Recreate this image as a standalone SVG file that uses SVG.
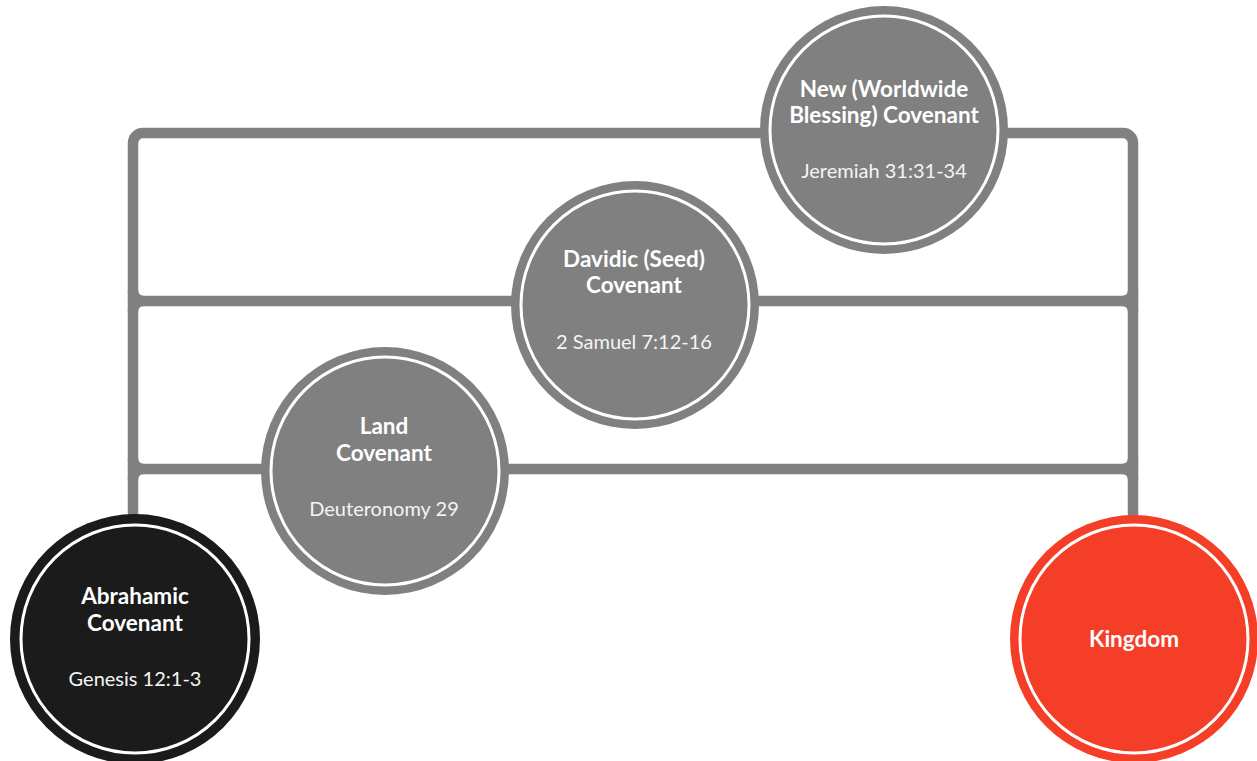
<svg xmlns="http://www.w3.org/2000/svg" width="1257" height="761" viewBox="0 0 1257 761">
<style>
.ln{fill:none;stroke:#808080;stroke-width:10.5;stroke-linecap:round}
.ring{fill:none;stroke:#ffffff;stroke-width:3}
.t{font-family:Lato,"Liberation Sans",sans-serif;font-weight:bold;font-size:22.5px;fill:#ffffff;text-anchor:middle}
.r{font-family:Lato,"Liberation Sans",sans-serif;font-size:20px;fill:#f4f4f4;text-anchor:middle}
</style>
<rect width="1257" height="761" fill="#ffffff"/>
<g id="connectors">
<path class="ln" d="M133,515 V143 A10,10 0 0 1 143,133 H1123 A10,10 0 0 1 1133,143 V515"/>
<path class="ln" d="M133,301 H1133"/>
<path class="ln" d="M133,469 H1133"/>
<path class="ln" d="M133,291 A10,10 0 0 0 143,301 M133,311 A10,10 0 0 1 143,301 M1133,291 A10,10 0 0 1 1123,301 M1133,311 A10,10 0 0 0 1123,301"/>
<path class="ln" d="M133,459 A10,10 0 0 0 143,469 M133,479 A10,10 0 0 1 143,469 M1133,459 A10,10 0 0 1 1123,469 M1133,479 A10,10 0 0 0 1123,469"/>
</g>
<g id="abrahamic">
<circle cx="135" cy="639" r="125" fill="#1b1b1b"/>
<circle class="ring" cx="135" cy="639" r="114"/>
<text class="t" x="135" y="604">Abrahamic</text>
<text class="t" x="135" y="631">Covenant</text>
<text class="r" x="135" y="686">Genesis 12:1-3</text>
</g>
<g id="land">
<circle cx="385" cy="471" r="124" fill="#808080"/>
<circle class="ring" cx="385" cy="471" r="114"/>
<text class="t" x="384" y="434">Land</text>
<text class="t" x="384" y="461">Covenant</text>
<text class="r" x="384" y="516">Deuteronomy 29</text>
</g>
<g id="davidic">
<circle cx="635" cy="305" r="124" fill="#808080"/>
<circle class="ring" cx="635" cy="305" r="114"/>
<text class="t" x="634" y="267">Davidic (Seed)</text>
<text class="t" x="634" y="293">Covenant</text>
<text class="r" x="634" y="349">2 Samuel 7:12-16</text>
</g>
<g id="new">
<circle cx="884" cy="130" r="124" fill="#808080"/>
<circle class="ring" cx="884" cy="130" r="114"/>
<text class="t" x="884" y="97">New (Worldwide</text>
<text class="t" x="884" y="123">Blessing) Covenant</text>
<text class="r" x="884" y="178">Jeremiah 31:31-34</text>
</g>
<g id="kingdom">
<circle cx="1134" cy="639" r="124" fill="#f43e27"/>
<circle class="ring" cx="1134" cy="639" r="114"/>
<text class="t" x="1134" y="647">Kingdom</text>
</g>
</svg>
